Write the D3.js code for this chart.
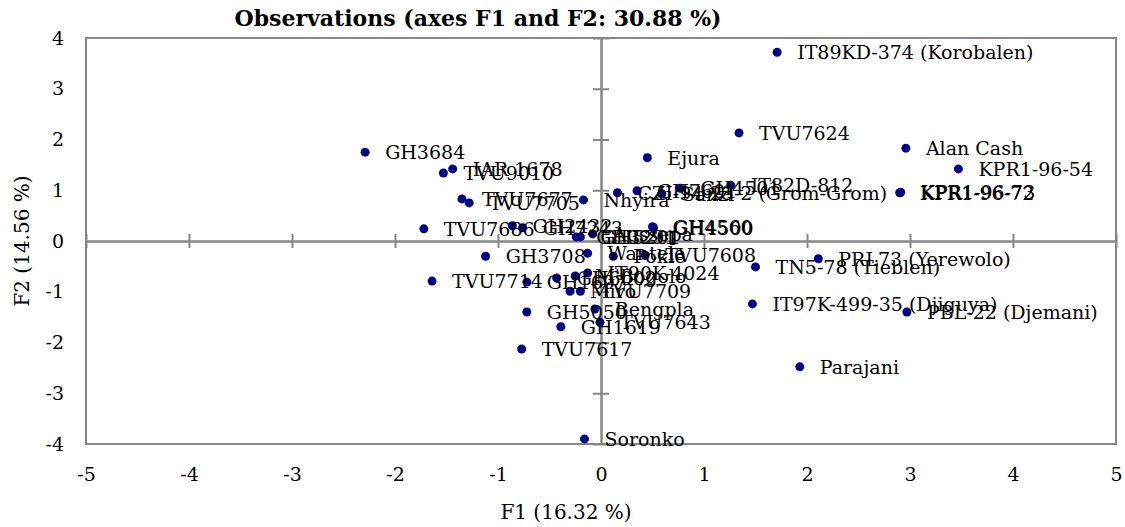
<!DOCTYPE html>
<html>
<head>
<meta charset="utf-8">
<script src="https://cdn.jsdelivr.net/npm/d3@7"></script>
<style>
  body { margin: 0; background: #fff; }
  svg { font-family: "DejaVu Serif", serif; }
</style>
</head>
<body>
<svg id="chart"></svg>
<script>
var names = [
  "GH3684", "TVU9010", "IAR 1678", "TVU7677", "TVU7705", "Nhyira", "TVU7686",
  "GH2432", "GH7243", "GH3291", "GH5201", "Aussepa", "GH4560", "GH4500",
  "GH3708", "Wantele", "Pokie", "TVU7608", "TN5-78 (Tieblen)", "PRL73 (Yerewolo)",
  "IT97K-499-35 (Djiguya)", "PBL-22 (Djemani)", "Parajani", "Soronko", "TVU7617",
  "GH1619", "GH5050", "Bengpla", "TVU7643", "TVU7714", "GH1697", "GH6002",
  "M'Bogolo", "IT90K-4024", "Miro", "TVU7709", "IT89KD-374 (Korobalen)", "TVU7624",
  "Alan Cash", "KPR1-96-54", "KPR1-96-72", "KPR1-96-73", "Ejura",
  "CZI-94-23-2 (Grom-Grom)", "GH7601", "Sanzi", "GH4501", "IT82D-812"
];
var f1 = [
  -2.29, -1.53, -1.44, -1.35, -1.28, -0.17, -1.72,
  -0.86, -0.76, -0.24, -0.20, -0.08, 0.50, 0.51,
  -1.12, -0.13, 0.12, 0.43, 1.50, 2.11,
  1.47, 2.97, 1.93, -0.16, -0.77,
  -0.39, -0.72, -0.06, -0.01, -1.64, -0.72, -0.43,
  -0.25, -0.13, -0.30, -0.20, 1.71, 1.34,
  2.96, 3.47, 2.90, 2.91, 0.45,
  0.16, 0.35, 0.59, 0.77, 1.26
];
var f2 = [
  1.75, 1.34, 1.42, 0.83, 0.75, 0.81, 0.24,
  0.30, 0.26, 0.08, 0.08, 0.14, 0.28, 0.26,
  -0.30, -0.24, -0.30, -0.28, -0.51, -0.35,
  -1.24, -1.40, -2.48, -3.90, -2.13,
  -1.69, -1.40, -1.34, -1.60, -0.79, -0.81, -0.73,
  -0.69, -0.63, -0.99, -0.99, 3.72, 2.13,
  1.83, 1.42, 0.95, 0.96, 1.64,
  0.95, 0.99, 0.93, 1.04, 1.10
];
var xTicks = [-5, -4, -3, -2, -1, 0, 1, 2, 3, 4, 5];
var yTicks = [-4, -3, -2, -1, 0, 1, 2, 3, 4];

var width = 1125, height = 527;
var mLeft = 86, mRight = 1116, mTop = 38, mBottom = 444;
var axisCol = "#868686", dotCol = "#000080";
var fmt = function(d) { return String(d); }; // plain hyphen minus like the original

var svg = d3.select("#chart").attr("width", width).attr("height", height);

var x = d3.scaleLinear().domain([-5, 5]).range([mLeft, mRight]);
var y = d3.scaleLinear().domain([-4, 4]).range([mBottom, mTop]);

// plot area frame
svg.append("rect")
    .attr("x", mLeft).attr("y", mTop)
    .attr("width", mRight - mLeft).attr("height", mBottom - mTop)
    .attr("fill", "none").attr("stroke", axisCol).attr("stroke-width", 2);

// axes through the origin, ticks crossing the line
function styleAxis(g) {
    g.selectAll("line").attr("stroke", axisCol).attr("stroke-width", 2);
    g.selectAll("path").attr("stroke", axisCol).attr("stroke-width", 2);
}
svg.append("g").attr("transform", "translate(0," + y(0) + ")")
    .call(d3.axisBottom(x).tickValues(xTicks).tickSize(7).tickFormat("").tickSizeOuter(0))
    .call(styleAxis);
svg.append("g").attr("transform", "translate(0," + y(0) + ")")
    .call(d3.axisTop(x).tickValues(xTicks).tickSize(7).tickFormat("").tickSizeOuter(0))
    .call(styleAxis);
svg.append("g").attr("transform", "translate(" + x(0) + ",0)")
    .call(d3.axisLeft(y).tickValues(yTicks).tickSize(8).tickFormat("").tickSizeOuter(0))
    .call(styleAxis);
svg.append("g").attr("transform", "translate(" + x(0) + ",0)")
    .call(d3.axisRight(y).tickValues(yTicks).tickSize(8).tickFormat("").tickSizeOuter(0))
    .call(styleAxis);

// tick labels at the low edges
svg.append("g").attr("transform", "translate(0," + mBottom + ")")
    .call(d3.axisBottom(x).tickValues(xTicks).tickFormat(fmt).tickSize(0).tickPadding(24))
    .call(function(g) {
        g.select(".domain").remove();
        g.selectAll("text").attr("font-size", 19).attr("font-family", "DejaVu Serif").attr("fill", "#000");
    });
svg.append("g").attr("transform", "translate(" + mLeft + ",0)")
    .call(d3.axisLeft(y).tickValues(yTicks).tickFormat(fmt).tickSize(0).tickPadding(22))
    .call(function(g) {
        g.select(".domain").remove();
        g.selectAll("text").attr("font-size", 19).attr("font-family", "DejaVu Serif").attr("fill", "#000");
    });

// points and labels
var pts = svg.append("g");
pts.selectAll("circle")
    .data(names)
    .enter()
    .append("circle")
    .attr("cx", function(d, i) { return x(f1[i]); })
    .attr("cy", function(d, i) { return y(f2[i]); })
    .attr("r", 4.5)
    .attr("fill", dotCol);
pts.selectAll("text")
    .data(names)
    .enter()
    .append("text")
    .attr("x", function(d, i) { return x(f1[i]) + 20; })
    .attr("y", function(d, i) { return y(f2[i]); })
    .attr("dy", "0.36em")
    .attr("font-size", 19)
    .text(function(d) { return d; });

// titles
svg.append("text")
    .attr("x", 478).attr("y", 26)
    .attr("text-anchor", "middle")
    .attr("font-size", 22).attr("font-weight", "bold")
    .text("Observations (axes F1 and F2: 30.88 %)");
svg.append("text")
    .attr("x", 566).attr("y", 519)
    .attr("text-anchor", "middle")
    .attr("font-size", 20)
    .text("F1 (16.32 %)");
svg.append("text")
    .attr("transform", "translate(29," + y(0) + ") rotate(-90)")
    .attr("text-anchor", "middle")
    .attr("font-size", 20)
    .text("F2 (14.56 %)");
</script>
</body>
</html>
